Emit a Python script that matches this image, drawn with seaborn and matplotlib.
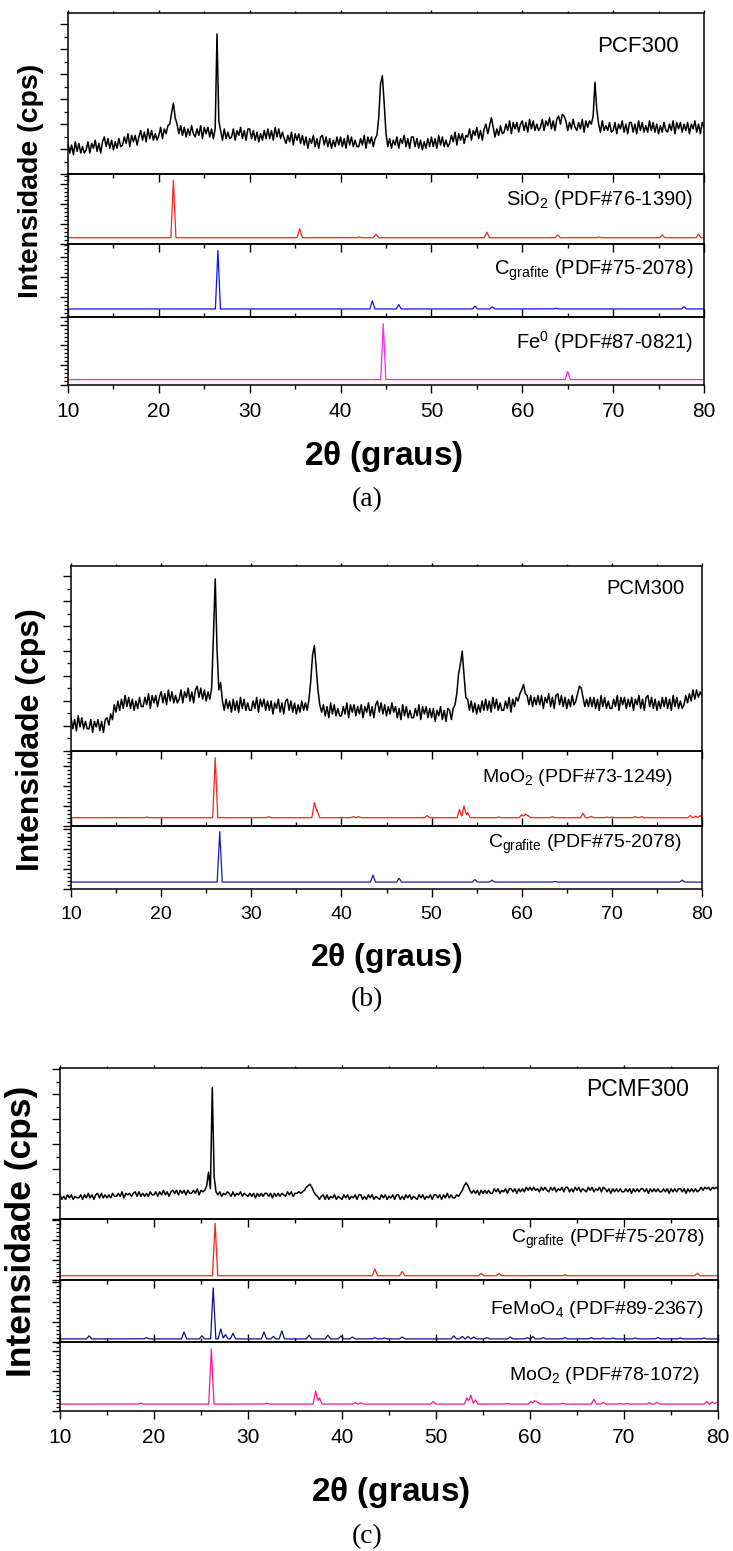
import numpy as np
import pandas as pd
import seaborn as sns
import matplotlib.pyplot as plt
from matplotlib.ticker import MultipleLocator, NullFormatter


W, H = 733, 1551

# 2theta grid of the measured patterns (0.2 deg step)
two_theta = np.round(np.arange(10, 80.0001, 0.2), 1)

# measured patterns, intensity read as % of the panel height (one row = 2 deg)
pcf300 = [
    19, 13, 18, 12, 20, 14, 19, 13, 17, 13,
    15, 20, 13, 19, 16, 21, 14, 19, 13, 20,
    23, 17, 22, 16, 21, 15, 20, 16, 22, 17,
    18, 23, 19, 25, 17, 24, 20, 24, 18, 23,
    27, 21, 26, 20, 28, 22, 27, 21, 25, 21,
    24, 29, 22, 28, 25, 30, 31, 38, 44, 35,
    31, 25, 30, 24, 29, 23, 28, 24, 30, 25,
    23, 28, 24, 30, 22, 29, 25, 29, 23, 28,
    22, 28, 87, 33, 27, 21, 28, 22, 26, 22,
    23, 28, 21, 27, 24, 29, 22, 27, 21, 28,
    28, 22, 27, 21, 26, 20, 25, 21, 27, 22,
    28, 22, 27, 21, 29, 23, 28, 22, 26, 22,
    19, 24, 20, 26, 18, 25, 21, 25, 19, 24,
    18, 23, 16, 22, 19, 24, 17, 22, 16, 23,
    24, 18, 23, 17, 22, 16, 21, 17, 23, 18,
    23, 17, 22, 16, 24, 18, 23, 17, 21, 17,
    17, 22, 18, 24, 16, 23, 19, 23, 17, 22,
    24, 35, 56, 61, 44, 25, 17, 22, 16, 21,
    18, 23, 16, 22, 19, 24, 17, 22, 16, 23,
    23, 17, 22, 16, 21, 15, 20, 16, 22, 17,
    23, 17, 22, 16, 24, 18, 23, 17, 21, 17,
    19, 24, 20, 26, 18, 25, 21, 25, 19, 24,
    23, 28, 21, 27, 24, 29, 22, 27, 21, 28,
    31, 25, 30, 35, 29, 23, 28, 24, 30, 25,
    26, 31, 27, 33, 25, 32, 28, 32, 26, 31,
    33, 27, 32, 26, 34, 28, 33, 27, 31, 27,
    29, 34, 27, 33, 30, 35, 28, 33, 27, 34,
    36, 31, 37, 36, 33, 27, 32, 28, 34, 29,
    27, 32, 28, 34, 26, 33, 29, 33, 31, 36,
    57, 40, 31, 26, 33, 27, 30, 27, 32, 26,
    27, 32, 25, 31, 28, 33, 26, 31, 25, 32,
    32, 26, 31, 25, 33, 27, 32, 26, 30, 26,
    33, 27, 32, 26, 31, 25, 30, 26, 32, 27,
    26, 31, 27, 33, 25, 32, 28, 32, 26, 31,
    27, 32, 25, 31, 28, 33, 26, 31, 25, 32,
    29,
]

pcm300 = [
    18, 12, 17, 11, 19, 13, 18, 12, 16, 12,
    12, 17, 10, 16, 13, 17, 11, 16, 10, 17,
    18, 14, 20, 17, 25, 21, 27, 22, 28, 23,
    30, 24, 29, 23, 28, 22, 27, 23, 29, 24,
    24, 29, 25, 31, 23, 30, 26, 30, 24, 29,
    32, 26, 31, 25, 33, 27, 32, 26, 30, 26,
    28, 33, 26, 32, 29, 34, 27, 32, 26, 33,
    35, 29, 34, 28, 33, 27, 32, 28, 34, 62,
    93, 55, 33, 37, 27, 22, 28, 23, 27, 21,
    28, 22, 27, 21, 29, 23, 28, 22, 26, 22,
    22, 27, 23, 29, 21, 28, 24, 28, 22, 27,
    22, 27, 20, 26, 23, 28, 21, 26, 20, 27,
    28, 22, 27, 21, 26, 20, 25, 21, 27, 22,
    26, 22, 28, 38, 52, 57, 45, 33, 25, 21,
    25, 19, 24, 18, 26, 20, 25, 19, 23, 19,
    19, 24, 20, 26, 18, 25, 21, 25, 19, 24,
    20, 25, 18, 24, 21, 26, 19, 24, 18, 25,
    27, 21, 26, 20, 25, 19, 24, 20, 26, 21,
    24, 18, 23, 17, 25, 19, 24, 18, 22, 18,
    18, 23, 19, 25, 17, 24, 20, 24, 18, 23,
    18, 23, 16, 22, 19, 24, 17, 22, 16, 23,
    22, 17, 23, 25, 31, 42, 47, 54, 41, 29,
    28, 22, 27, 21, 26, 20, 25, 21, 27, 22,
    28, 22, 27, 21, 29, 23, 28, 22, 26, 22,
    22, 27, 23, 29, 21, 28, 24, 29, 27, 31,
    33, 36, 31, 30, 25, 30, 24, 29, 25, 30,
    25, 30, 23, 29, 26, 31, 24, 29, 23, 30,
    31, 25, 30, 24, 29, 23, 28, 24, 30, 25,
    27, 31, 35, 34, 29, 24, 28, 24, 29, 24,
    29, 23, 28, 22, 30, 24, 29, 23, 27, 23,
    23, 28, 24, 30, 22, 29, 25, 29, 23, 28,
    24, 29, 22, 28, 25, 30, 23, 28, 22, 29,
    30, 24, 29, 23, 28, 22, 27, 23, 29, 24,
    29, 23, 28, 22, 30, 24, 29, 23, 27, 23,
    25, 30, 26, 31, 27, 33, 28, 33, 29, 32,
    30,
]

pcmf300 = [
    16, 13, 15, 13, 16, 14, 16, 13, 15, 14,
    14, 16, 13, 16, 14, 17, 14, 16, 13, 16,
    17, 14, 17, 14, 16, 14, 16, 14, 17, 15,
    15, 17, 15, 18, 14, 17, 16, 17, 15, 17,
    18, 15, 18, 15, 17, 15, 17, 15, 18, 16,
    16, 18, 15, 18, 16, 19, 16, 18, 15, 18,
    19, 17, 19, 16, 19, 17, 19, 16, 19, 17,
    17, 19, 17, 20, 16, 19, 18, 19, 22, 31,
    20, 87, 28, 18, 16, 18, 15, 17, 16, 18,
    17, 15, 18, 15, 17, 16, 18, 15, 17, 16,
    15, 17, 15, 17, 14, 17, 15, 17, 15, 17,
    17, 15, 17, 14, 17, 15, 17, 15, 17, 16,
    15, 18, 16, 18, 15, 17, 17, 18, 17, 18,
    19, 21, 22, 23, 21, 18, 16, 15, 13, 15,
    16, 13, 16, 13, 15, 14, 16, 13, 15, 14,
    13, 16, 14, 16, 13, 15, 14, 16, 13, 16,
    16, 13, 15, 13, 16, 14, 16, 13, 15, 14,
    13, 16, 14, 16, 13, 15, 14, 16, 13, 16,
    16, 13, 15, 13, 16, 14, 16, 13, 15, 14,
    13, 16, 14, 16, 13, 15, 14, 16, 13, 16,
    16, 14, 16, 13, 16, 14, 17, 14, 16, 14,
    14, 16, 15, 17, 19, 22, 24, 22, 19, 17,
    19, 17, 19, 16, 19, 17, 19, 17, 19, 17,
    17, 20, 18, 20, 17, 19, 18, 20, 17, 20,
    20, 18, 20, 17, 20, 18, 20, 18, 21, 19,
    21, 19, 21, 19, 20, 18, 21, 19, 21, 19,
    18, 21, 19, 21, 18, 20, 19, 21, 18, 21,
    21, 18, 20, 18, 21, 19, 21, 18, 20, 19,
    18, 21, 19, 21, 18, 20, 19, 21, 18, 21,
    20, 18, 20, 17, 20, 18, 20, 18, 20, 18,
    18, 20, 18, 20, 17, 20, 18, 20, 18, 20,
    20, 18, 20, 17, 20, 18, 20, 18, 20, 18,
    18, 20, 18, 20, 17, 20, 18, 20, 18, 20,
    20, 18, 20, 17, 20, 18, 20, 18, 20, 18,
    19, 21, 19, 21, 20, 21, 19, 21, 20, 21,
    20,
]

# reference cards: peak position (2theta) and height above baseline (% of panel)
sio2_pos = [21.6, 35.5, 42.0, 43.9, 56.1, 63.9, 68.4, 75.4, 79.4]
sio2_int = [82, 13, 1, 5, 8, 4, 1, 4, 5]

cgraf_pos = [26.5, 43.5, 46.4, 54.8, 56.7, 63.7, 77.8]
cgraf_int = [80, 11, 6, 4, 3, 1, 3]

fe_pos = [44.7, 65.0]
fe_int = [82, 12]

moo2_b_pos = [18.4, 26.0, 31.9, 37.0, 37.3, 41.3, 41.9, 49.5, 53.1, 53.6, 54.0, 57.4,
              60.0, 60.4, 60.7, 63.4, 66.8, 67.7, 69.4, 70.0, 72.6, 73.3, 78.7, 79.3, 79.8]
moo2_b_int = [1, 80, 1.5, 20, 10, 1.5, 1.5, 3, 11, 16, 7, 1,
              4, 5, 3, 1.5, 6, 2, 1, 1, 1.5, 1.5, 3, 2, 3]

cgraf_c_int = [86, 11, 7, 4, 4, 1.5, 4]

femoo4_pos = [13.1, 19.2, 23.2, 25.1, 26.3, 27.1, 27.6, 28.4, 31.7, 32.7, 33.6, 36.5,
              38.5, 39.9, 41.1, 43.5, 44.5, 46.4, 51.9, 52.8, 53.4, 54.0, 55.4, 57.9,
              59.7, 60.3, 61.4, 63.7, 66.5, 67.8, 68.8, 71.2, 73.6, 76.0, 78.5]
femoo4_int = [5, 2, 11, 5, 82, 16, 7, 9, 11, 4, 13, 6,
              6, 5, 3, 2, 1.5, 3, 5, 4, 4, 3, 2, 3,
              2, 4, 2, 2, 2, 1.5, 1.5, 1.5, 2, 1.5, 1.5]

moo2_c_pos = [18.6, 26.1, 32.0, 37.2, 37.6, 41.4, 42.0, 49.7, 53.3, 53.7, 54.2, 57.6,
              60.1, 60.5, 60.8, 63.5, 66.8, 67.8, 69.6, 70.3, 72.7, 73.5, 78.8, 79.4, 79.9]
moo2_c_int = [1.5, 80, 1.5, 19, 9, 2, 2, 3.5, 9, 13, 6, 1,
              4, 5, 3, 1.5, 7, 2.5, 1, 1, 2, 2.5, 4, 3, 3]

# text
panel_titles = ["PCF300", "PCM300", "PCMF300"]
panel_letters = ["(a)", "(b)", "(c)"]
xlabel_text = r"2$\mathbf{\theta}$ (graus)"
ylabel_text = "Intensidade (cps)"


fine_theta = np.round(np.arange(10, 80.0001, 0.02), 2)


def card_profile(pos, inten, base, hw=0.28):
    # stick pattern drawn as narrow triangular peaks on a flat baseline
    y = np.full(fine_theta.shape, float(base))
    for p, h in zip(pos, inten):
        y += np.clip(h * (1 - np.abs(fine_theta - p) / hw), 0, None)
    return pd.DataFrame({"two_theta": fine_theta, "intensity": y})


def px_axes(fig, left, right, top, bottom):
    return fig.add_axes([left / W, 1 - bottom / H, (right - left) / W, (bottom - top) / H])


def style_axes(ax, height_px, is_top, is_bottom, labelsize):
    ax.set_xlim(10, 80)
    ax.set_ylim(0, 100)
    ax.set_xlabel("")
    ax.set_ylabel("")
    ax.patch.set_alpha(0)
    for s in ax.spines.values():
        s.set_linewidth(1.1)
        s.set_color("black")
    ax.xaxis.set_major_locator(MultipleLocator(10))
    ax.xaxis.set_minor_locator(MultipleLocator(5))
    if is_top:
        ax.yaxis.set_major_locator(MultipleLocator(25 / height_px * 100))
        ax.yaxis.set_minor_locator(MultipleLocator(12.5 / height_px * 100))
    else:
        ax.yaxis.set_major_locator(MultipleLocator(20 / height_px * 100))
        ax.yaxis.set_minor_locator(MultipleLocator(4 / height_px * 100))
    ax.yaxis.set_major_formatter(NullFormatter())
    ax.tick_params(axis="y", which="major", direction="out", length=5.5, width=1.0,
                   left=True, right=False, labelleft=False)
    ax.tick_params(axis="y", which="minor", direction="out", length=3, width=0.9,
                   left=True, right=False)
    # top of the stack: tiny outward ticks; inner boundaries: ticks pointing down
    ax.tick_params(axis="x", which="both", top=True, bottom=is_bottom,
                   direction="out" if is_top else "in",
                   labelbottom=is_bottom, labeltop=False, width=1.0)
    if is_top:
        ax.tick_params(axis="x", which="major", length=2.5)
        ax.tick_params(axis="x", which="minor", length=1.8)
    else:
        ax.tick_params(axis="x", which="major", length=5.5)
        ax.tick_params(axis="x", which="minor", length=3)
    if is_bottom:
        ax.tick_params(axis="x", which="major", direction="out", bottom=True,
                       labelsize=labelsize, pad=7)
        ax.tick_params(axis="x", which="minor", direction="out", bottom=True)
    else:
        ax.set_xticklabels([])


def draw_panel(fig, left, right, edges, layers, title_size, label_size, tick_size,
               trace_lw):
    n = len(layers)
    for i, (kind, data, color, text, text_xy) in enumerate(layers):
        top, bottom = edges[i], edges[i + 1]
        ax = px_axes(fig, left, right, top, bottom)
        if kind == "measured":
            df = pd.DataFrame({"two_theta": two_theta, "intensity": data})
            lw = trace_lw
        else:
            df = data
            lw = 0.9
        sns.lineplot(data=df, x="two_theta", y="intensity", ax=ax, color=color,
                     linewidth=lw, estimator=None, sort=False)
        style_axes(ax, bottom - top, i == 0, i == n - 1, tick_size)
        ax.text(text_xy[0], text_xy[1], text, transform=ax.transAxes,
                ha="right", va="center",
                fontsize=title_size if i == 0 else label_size)


sns.set_style("ticks")
plt.rcParams["font.family"] = ["Liberation Sans", "DejaVu Sans"]
plt.rcParams["mathtext.fontset"] = "custom"
plt.rcParams["mathtext.rm"] = "Liberation Sans"
plt.rcParams["mathtext.bf"] = "Liberation Sans:bold"
plt.rcParams["mathtext.default"] = "regular"
for key in ["text.color", "axes.labelcolor", "xtick.color", "ytick.color"]:
    plt.rcParams[key] = "black"

fig = plt.figure(figsize=(W / 100, H / 100), dpi=100)

# (a)
draw_panel(
    fig, 68, 704, [13, 174, 244, 317, 385],
    [
        ("measured", pcf300, "black", panel_titles[0], (0.96, 0.79)),
        ("card", card_profile(sio2_pos, sio2_int, 9), "#ff2020",
         r"SiO$_2$ (PDF#76-1390)", (0.983, 0.64)),
        ("card", card_profile(cgraf_pos, cgraf_int, 11), "#1010ff",
         r"C$_{grafite}$ (PDF#75-2078)", (0.983, 0.64)),
        ("card", card_profile(fe_pos, fe_int, 8), "#ff20ff",
         r"Fe$^{0}$ (PDF#87-0821)", (0.983, 0.63)),
    ],
    16, 14.5, 15, 1.1,
)

# (b)
draw_panel(
    fig, 71, 702, [566, 751, 826, 889],
    [
        ("measured", pcm300, "black", panel_titles[1], (0.973, 0.876)),
        ("card", card_profile(moo2_b_pos, moo2_b_int, 11), "#ff2020",
         r"MoO$_2$ (PDF#73-1249)", (0.955, 0.65)),
        ("card", card_profile(cgraf_pos, cgraf_int, 11), "#1a1ab0",
         r"C$_{grafite}$ (PDF#75-2078)", (0.968, 0.70)),
    ],
    14.5, 14, 14, 1.1,
)

# (c)
draw_panel(
    fig, 60, 718, [1068, 1219, 1280, 1342, 1411],
    [
        ("measured", pcmf300, "black", panel_titles[2], (0.956, 0.86)),
        ("card", card_profile(cgraf_pos, cgraf_c_int, 7), "#ff2020",
         r"C$_{grafite}$ (PDF#75-2078)", (0.979, 0.66)),
        ("card", card_profile(femoo4_pos, femoo4_int, 5), "#10108a",
         r"FeMoO$_4$ (PDF#89-2367)", (0.979, 0.52)),
        ("card", card_profile(moo2_c_pos, moo2_c_int, 10), "#ff1493",
         r"MoO$_2$ (PDF#78-1072)", (0.972, 0.52)),
    ],
    16.5, 14, 15, 1.1,
)

# shared labels of each panel
for cx, cy, size in [(31, 181, 20.5), (31, 740, 23), (22, 1231, 25.5)]:
    fig.text(cx / W, 1 - cy / H, ylabel_text, rotation=90, ha="center", va="center",
             fontsize=size, fontweight="bold")

for cx, cy, size in [(384, 457, 24), (386, 958, 23), (391, 1493, 24)]:
    fig.text(cx / W, 1 - cy / H, xlabel_text, ha="center", va="center",
             fontsize=size, fontweight="bold")

for cx, cy, letter in [(367, 500, panel_letters[0]), (367, 1000, panel_letters[1]),
                       (367, 1537, panel_letters[2])]:
    fig.text(cx / W, 1 - cy / H, letter, ha="center", va="center", fontsize=20,
             family="Liberation Serif")

fig.savefig("out.png", dpi=100)
